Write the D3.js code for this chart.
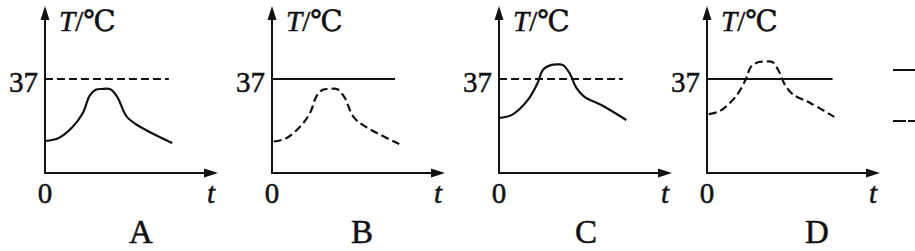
<!DOCTYPE html>
<html>
<head>
<meta charset="utf-8">
<script src="https://cdn.jsdelivr.net/npm/d3@7"></script>
<style>
  body { margin: 0; background: #fff; }
  svg { display: block; }
</style>
</head>
<body>
<svg class="canvas" width="915" height="251"></svg>
<script>
"use strict";

// panel names and line styles: which of the two lines is dashed
const panels = ["A", "B", "C", "D"];
const refDashed = [true, false, true, false];   // the 37 line
const curveDashed = [false, true, false, true]; // the body temperature curve
const refValue = 37;

// curve readings, t (0..10) and T on the same scale as 37
const timeA = [0, 0.8, 1.6, 2.2, 2.6, 2.95, 3.3, 3.8, 4.2, 4.75, 5.5, 7.4];
const tempA = [12.6, 13.8, 18.1, 23.6, 30.5, 32.8, 33.1, 33.0, 30.0, 22.2, 18.3, 11.8];
const timeB = [0.1, 0.8, 1.6, 2.2, 2.6, 2.95, 3.3, 3.8, 4.2, 4.75, 5.5, 7.4];
const tempB = [12.4, 13.6, 18.0, 23.5, 30.4, 32.8, 33.1, 33.0, 30.0, 22.0, 18.0, 11.4];
const timeC = [0, 0.75, 1.68, 2.25, 2.55, 3.06, 3.4, 3.7, 4.1, 4.5, 4.97, 5.95, 7.4];
const tempC = [21.7, 22.9, 28.8, 35.5, 40.6, 42.6, 42.8, 42.6, 39.4, 33.5, 30.0, 26.8, 20.9];
const timeD = [0.1, 0.75, 1.68, 2.25, 2.55, 3.0, 3.4, 3.8, 4.15, 4.55, 5.0, 6.0, 7.4];
const tempD = [23.2, 24.4, 30.2, 36.8, 41.8, 43.7, 43.9, 43.7, 40.5, 34.5, 31.0, 27.6, 22.1];

const times = [timeA, timeB, timeC, timeD];
const temps = [tempA, tempB, tempC, tempD];
const refEnd = [7.2, 7.15, 7.2, 7.3]; // where the 37 line stops (t)

// layout
const originX = [45, 272, 499, 707];
const letterDx = [96, 90, 87, 110];
const originY = 173;
const axisLen = 172;
const axisTop = 6;
const serif = "'Liberation Serif', Tinos, 'DejaVu Serif', 'Noto Serif', serif";

const svg = d3.select("svg");
const stroke = "#111";

const y = d3.scaleLinear().domain([0, 65]).range([originY, originY - 165]);

panels.forEach((name, i) => {
  const ox = originX[i];
  const x = d3.scaleLinear().domain([0, 10]).range([ox, ox + axisLen]);
  const g = svg.append("g")
    .attr("font-family", serif)
    .attr("fill", "#111");

  // axes
  g.append("line")
    .attr("x1", ox).attr("y1", originY + 1)
    .attr("x2", ox).attr("y2", axisTop + 8)
    .attr("stroke", stroke).attr("stroke-width", 2);
  g.append("line")
    .attr("x1", ox - 1).attr("y1", originY)
    .attr("x2", ox + axisLen - 8).attr("y2", originY)
    .attr("stroke", stroke).attr("stroke-width", 2);
  // arrow heads
  g.append("path")
    .attr("d", `M${ox},${axisTop} L${ox - 4.5},${axisTop + 14} L${ox + 4.5},${axisTop + 14} Z`)
    .attr("fill", stroke);
  const tip = ox + axisLen + 1;
  g.append("path")
    .attr("d", `M${tip},${originY} L${tip - 14},${originY - 4.5} L${tip - 14},${originY + 4.5} Z`)
    .attr("fill", stroke);

  // 37 reference line
  g.append("line")
    .attr("x1", ox).attr("y1", y(refValue))
    .attr("x2", x(refEnd[i])).attr("y2", y(refValue))
    .attr("stroke", stroke).attr("stroke-width", 2)
    .attr("stroke-dasharray", refDashed[i] ? "8,4" : null);

  // body temperature curve
  const pts = times[i].map((t, k) => [t, temps[i][k]]);
  const line = d3.line()
    .x(d => x(d[0]))
    .y(d => y(d[1]))
    .curve(d3.curveCatmullRom.alpha(0.5));
  g.append("path")
    .datum(pts)
    .attr("d", line)
    .attr("fill", "none")
    .attr("stroke", stroke).attr("stroke-width", 2.2)
    .attr("stroke-dasharray", curveDashed[i] ? "8,4" : null);

  // texts (a thin outline to match the heavier print)
  const txt = sel => sel.attr("stroke", "#111").attr("stroke-width", 0.5);
  g.append("text")
    .attr("x", ox - 7).attr("y", y(refValue) + 13)
    .attr("text-anchor", "end")
    .attr("font-size", 29)
    .call(txt)
    .text("37");
  g.append("text")
    .attr("x", ox).attr("y", 203)
    .attr("text-anchor", "middle")
    .attr("font-size", 29)
    .call(txt)
    .text("0");
  g.append("text")
    .attr("x", tip - 7).attr("y", 203)
    .attr("text-anchor", "middle")
    .attr("font-size", 29)
    .attr("font-style", "italic")
    .call(txt)
    .text("t");
  const lab = g.append("text")
    .attr("x", ox + 14).attr("y", 31)
    .attr("font-size", 29)
    .call(txt);
  lab.append("tspan").attr("font-style", "italic").text("T");
  lab.append("tspan").text("/℃");
  g.append("text")
    .attr("x", ox + letterDx[i]).attr("y", 243)
    .attr("text-anchor", "middle")
    .attr("font-size", 33)
    .call(txt)
    .text(name);
});

// legend (cut off at the right edge)
svg.append("line")
  .attr("x1", 893).attr("y1", 70).attr("x2", 918).attr("y2", 70)
  .attr("stroke", stroke).attr("stroke-width", 2);
svg.append("line")
  .attr("x1", 893).attr("y1", 121).attr("x2", 918).attr("y2", 121)
  .attr("stroke", stroke).attr("stroke-width", 2)
  .attr("stroke-dasharray", "13,2");
</script>
</body>
</html>
